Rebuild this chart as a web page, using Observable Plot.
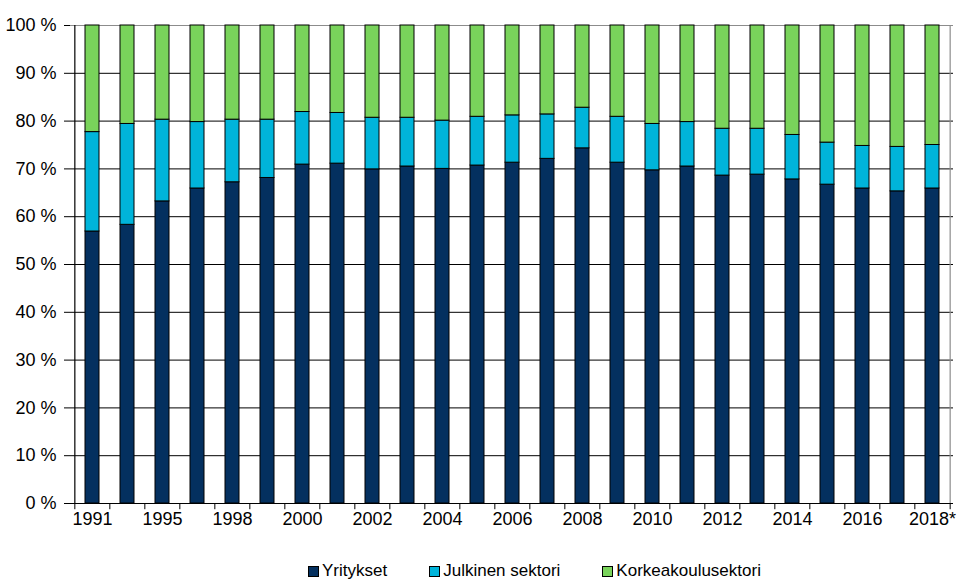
<!DOCTYPE html>
<html>
<head>
<meta charset="utf-8">
<script src="https://cdn.jsdelivr.net/npm/d3@7"></script>
<script src="https://cdn.jsdelivr.net/npm/@observablehq/plot@0.6"></script>
<style>
  body { margin: 0; background: #fff; font-family: "Liberation Sans", Arial, sans-serif; }
  #wrap { position: relative; width: 966px; height: 587px; }
  #legend { position: absolute; left: 308px; top: 561px; display: flex; align-items: center; font-size: 17px; color: #000; }
  .item { display: flex; align-items: center; margin-right: 42px; }
  .sw { width: 9px; height: 9px; border: 1px solid #000; margin-right: 3px; }
</style>
</head>
<body>
<div id="wrap"><div id="chart"></div><div id="legend"></div></div>
<script>
const years = ["1991","1993","1995","1997","1998","1999","2000","2001","2002","2003","2004","2005","2006","2007","2008","2009","2010","2011","2012","2013","2014","2015","2016","2017","2018"];
const yritykset = [56.9,58.3,63.2,65.9,67.2,68.1,70.9,71.1,69.9,70.5,70.0,70.7,71.3,72.1,74.3,71.3,69.7,70.5,68.6,68.8,67.8,66.7,65.9,65.3,65.9];
const julkinen  = [20.8,21.1,17.1,13.9,13.1,12.2,11.0,10.6,10.8,10.2,10.1,10.2,9.9,9.3,8.5,9.6,9.7,9.3,9.8,9.6,9.3,8.8,8.9,9.3,9.1];
const korkea    = [22.3,20.6,19.7,20.2,19.7,19.7,18.1,18.3,19.3,19.3,19.9,19.1,18.8,18.6,17.2,19.1,20.6,20.2,21.6,21.6,22.9,24.5,25.2,25.4,25.0];
const seriesNames = ["Yritykset","Julkinen sektori","Korkeakoulusektori"];
const colors = ["#04305f","#00b4da","#79d35b"];
const yTicks = [0,10,20,30,40,50,60,70,80,90,100];
const tickLabels = ["1991","","1995","","1998","","2000","","2002","","2004","","2006","","2008","","2010","","2012","","2014","","2016","","2018*"];

const rows = [];
years.forEach((y, i) => {
  rows.push({year: y, sector: seriesNames[0], value: yritykset[i]});
  rows.push({year: y, sector: seriesNames[1], value: julkinen[i]});
  rows.push({year: y, sector: seriesNames[2], value: korkea[i]});
});

const W = 966, H = 550, mL = 70, mR = 13, mT = 25, mB = 47;
const step = (W - mL - mR) / years.length;

const chart = Plot.plot({
  width: W, height: H,
  marginLeft: mL, marginRight: mR, marginTop: mT, marginBottom: mB,
  style: {fontFamily: "Liberation Sans, Arial, sans-serif", fontSize: "18px", color: "#000"},
  x: {type: "band", domain: years, paddingInner: 0.6, paddingOuter: 0.3, label: null,
      tickSize: 0, tickPadding: 9, tickFormat: (d, i) => tickLabels[years.indexOf(d)]},
  y: {domain: [0, 100], ticks: yTicks, tickFormat: d => d + " %", label: null, tickSize: 6, tickPadding: 8},
  color: {domain: seriesNames, range: colors},
  marks: [
    Plot.ruleY(yTicks.filter(d => d > 0 && d < 100), {stroke: "#000", strokeWidth: 1}),
    Plot.ruleY([100], {stroke: "#8c8c8c", strokeWidth: 1.2}),
    Plot.barY(rows, Plot.stackY({order: seriesNames, x: "year", y: "value", fill: "sector", stroke: "#000", strokeWidth: 1})),
    Plot.ruleX([years[years.length - 1]], {dx: step / 2, y1: 0, y2: 100, stroke: "#8c8c8c", strokeWidth: 1.2}),
    Plot.ruleX(years, {dx: -step / 2, y1: 0, y2: -1.3, stroke: "#000"}),
    Plot.ruleX([years[years.length - 1]], {dx: step / 2, y1: 0, y2: -1.3, stroke: "#000"}),
    Plot.ruleY([0], {stroke: "#000", strokeWidth: 1.2}),
    Plot.ruleX([years[0]], {dx: -step / 2, y1: 0, y2: 100, stroke: "#000", strokeWidth: 1.2})
  ]
});
document.getElementById("chart").appendChild(chart);

const legend = document.getElementById("legend");
seriesNames.forEach((n, i) => {
  const it = document.createElement("div");
  it.className = "item";
  const sw = document.createElement("div");
  sw.className = "sw";
  sw.style.background = colors[i];
  const t = document.createElement("span");
  t.textContent = n;
  it.appendChild(sw); it.appendChild(t);
  legend.appendChild(it);
});
</script>
</body>
</html>
